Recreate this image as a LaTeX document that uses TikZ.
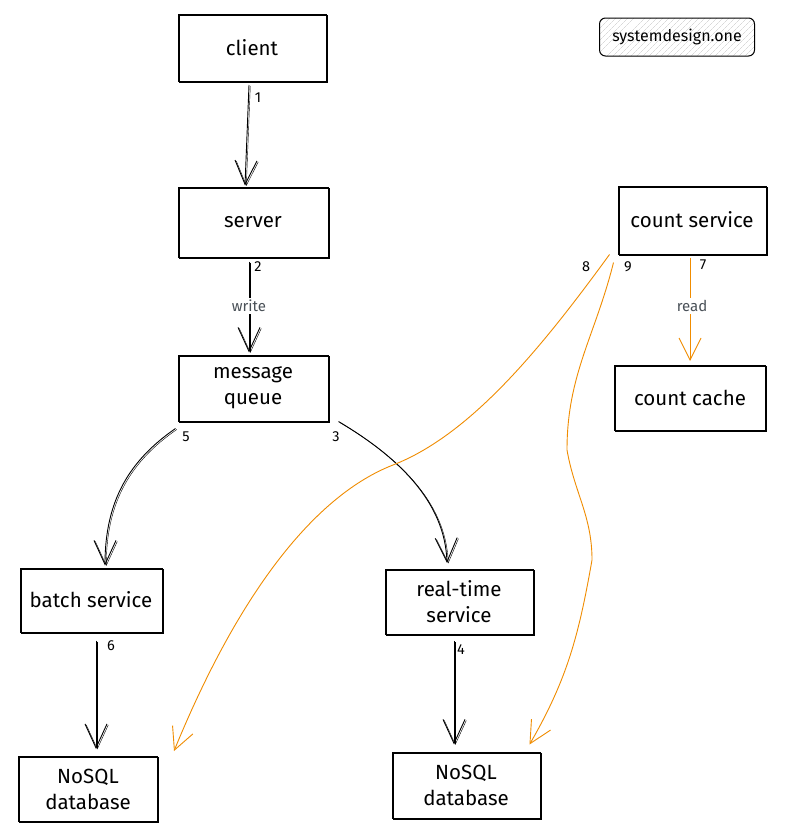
\documentclass[tikz,border=0pt]{standalone}
\usepackage{fontspec}
\setmainfont{Fira Sans}
\usetikzlibrary{arrows.meta,patterns.meta}
\definecolor{exorange}{RGB}{240,140,0}
\definecolor{labgray}{RGB}{73,80,87}
\tikzset{
 sketch/.style={preaction={draw,transform canvas={xshift=1.3pt,yshift=-1pt}}},
 box/.style={draw, line width=1pt, sketch, align=center, font=\fontsize{20.5}{26}\selectfont, inner sep=2pt},
 num/.style={font=\fontsize{14.5}{16}\selectfont, inner sep=1pt},
 elab/.style={font=\fontsize{15}{17}\selectfont, text=labgray, fill=white, inner sep=2pt},
 blk/.style={line width=0.9pt, -{Straight Barb[length=24pt,width=22pt,line width=0.9pt]}, sketch},
 org/.style={line width=0.9pt, draw=exorange, -{Straight Barb[length=22pt,width=22pt,line width=0.9pt]}},
}
\begin{document}
\begin{tikzpicture}[x=1pt,y=-1pt]
\useasboundingbox[fill=white] (0,0) rectangle (788,835);
% boxes
\node[box, minimum width=148pt, minimum height=67pt] (client) at (252,48) {client};
\node[box, minimum width=150pt, minimum height=70pt] (server) at (253,222) {server};
\node[box, minimum width=150pt, minimum height=66pt] (mq) at (253,388) {message\\queue};
\node[box, minimum width=148pt, minimum height=68pt] (cs) at (692,220) {count service};
\node[box, minimum width=151pt, minimum height=65pt] (cc) at (690,398) {count cache};
\node[box, minimum width=142pt, minimum height=64pt] (batch) at (91,600) {batch service};
\node[box, minimum width=148pt, minimum height=65pt] (rt) at (459,602) {real-time\\service};
\node[box, minimum width=139pt, minimum height=65pt] (db1) at (88,789) {NoSQL\\database};
\node[box, minimum width=148pt, minimum height=66pt] (db2) at (466,785) {NoSQL\\database};
\node[draw, line width=1pt, rounded corners=6pt, minimum width=155pt, minimum height=38pt,
      pattern={Lines[angle=45,distance=4pt,line width=0.4pt]}, pattern color=gray!45,
      font=\fontsize{16}{18}\selectfont] (sd) at (677,37) {systemdesign.one};
% black connectors
\draw[blk] ([xshift=-3pt,yshift=-3pt]client.south) -- ([xshift=-8pt,yshift=1pt]server.north);
\draw[blk] ([xshift=-4pt,yshift=-4pt]server.south) -- ([xshift=-4pt,yshift=2pt]mq.north);
\draw[blk] ([xshift=10pt]mq.south east) .. controls (395,455) and (445,500) .. ([xshift=-12pt,yshift=6pt]rt.north);
\draw[blk] ([xshift=-2pt,yshift=-7pt]mq.south west) .. controls (130,460) and (105,500) .. ([xshift=14pt,yshift=2pt]batch.north);
\draw[blk] ([xshift=5pt,yshift=-8pt]batch.south) -- ([xshift=8pt,yshift=7pt]db1.north);
\draw[blk] ([xshift=-5pt,yshift=-6pt]rt.south) -- ([xshift=-12pt,yshift=7pt]db2.north);
% orange connectors
\draw[org] ([xshift=-2pt,yshift=-3pt]cs.south) -- ([yshift=4pt]cc.north);
\draw[org] ([xshift=-8pt,yshift=0pt]cs.south west) .. controls (540,350) and (470,435) .. (393,465)
   .. controls (316,495) and (240,590) .. ([xshift=16pt,yshift=5pt]db1.north east);
\draw[org] ([xshift=-4pt,yshift=-8pt]cs.south west) to[out=-104,in=90] (567,450)
   to[out=-80,in=90] (592,560) to[out=-100,in=60] ([xshift=-11pt,yshift=7pt]db2.north east);
% labels
\node[elab] (lw) at (249,306) {write};
\node[elab] (lr) at (692,306) {read};
\node[num] (n1) at (258,98) {1};
\node[num] (n2) at (258,267) {2};
\node[num] (n5) at (186,437) {5};
\node[num] (n3) at (336,437) {3};
\node[num] (n6) at (111,646) {6};
\node[num] (n4) at (461,650) {4};
\node[num] (n8) at (586,267) {8};
\node[num] (n9) at (628,267) {9};
\node[num] (n7) at (703,265) {7};
\end{tikzpicture}
\end{document}
